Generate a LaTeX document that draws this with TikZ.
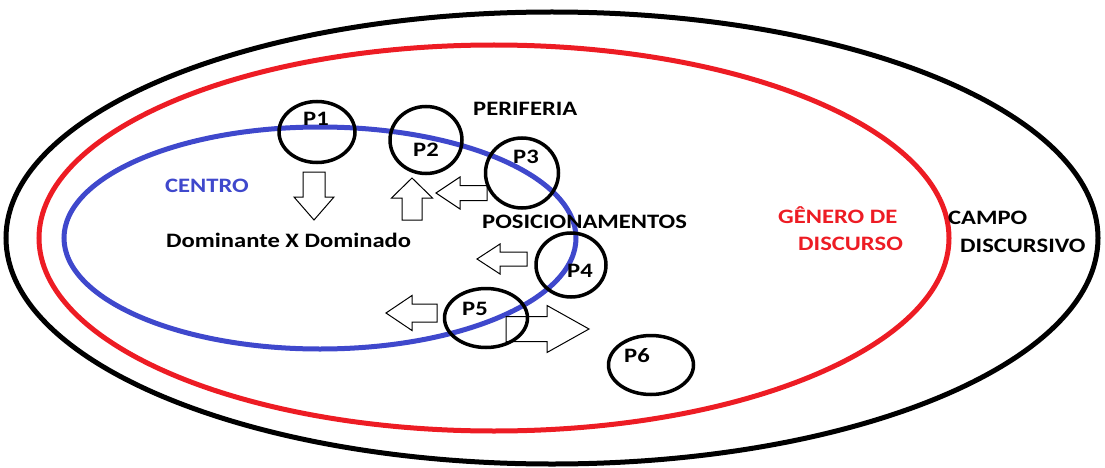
\documentclass[tikz,border=0pt]{standalone}
\usepackage{fontspec}
\setmainfont{Carlito}
\newfontfamily\widecarlito[FakeStretch=1.2]{Carlito}
\usepackage{xcolor}
\usetikzlibrary{shapes.geometric}

\definecolor{paintred}{HTML}{ED1C24}
\definecolor{paintblue}{HTML}{3F48CC}

\tikzset{
  poscircle/.style={draw=black, line width=3.5pt, ellipse, inner sep=0pt},
  plabel/.style={anchor=base west, inner sep=0pt, font=\widecarlito\fontsize{20.5}{22}\selectfont\bfseries},
  maintext/.style={anchor=base west, inner sep=0pt, font=\widecarlito\fontsize{20.5}{22}\selectfont\bfseries},
}

% hollow block arrow: x, y (tail), angle, length, shaft width, head width, head length
\newcommand{\hollowarrow}[7]{%
  \begin{scope}[shift={(#1,#2)}, rotate=#3]
    \draw[line width=1pt, fill=white]
      (0,-#5/2) -- (#4-#7,-#5/2) -- (#4-#7,-#6/2) -- (#4,0)
      -- (#4-#7,#6/2) -- (#4-#7,#5/2) -- (0,#5/2) -- cycle;
  \end{scope}}

\begin{document}
\begin{tikzpicture}[x=1pt, y=-1pt]
  \useasboundingbox (0,0) rectangle (1105,468);
  % Outer fields
  \draw[line width=5pt, black] (552,238) ellipse [x radius=546, y radius=226];
  \draw[line width=5pt, paintred] (494,238) ellipse [x radius=455, y radius=193];
  \draw[line width=5pt, paintblue] (320,238) ellipse [x radius=256, y radius=111];

  % Field labels
  \node[maintext, text=paintblue] (centro) at (165,192) {CENTRO};
  \node[maintext] (domin) at (166,247) {Dominante X Dominado};
  \node[maintext] (periferia) at (473,116) {PERIFERIA};
  \node[maintext] (posic) at (482,228) {POSICIONAMENTOS};
  \node[maintext, text=paintred] (genero) at (778,223) {GÊNERO DE};
  \node[maintext, text=paintred] (discurso) at (798,250) {DISCURSO};
  \node[maintext] (campo) at (948,224) {CAMPO};
  \node[maintext] (discursivo) at (960,252) {DISCURSIVO};

  % Arrows
  \hollowarrow{314}{172}{-90}{48}{22}{40}{23}
  \hollowarrow{412}{220}{90}{42}{20}{41}{20}
  \hollowarrow{487}{193}{180}{51}{15}{32}{24}
  \hollowarrow{527}{259}{180}{50}{14}{30}{23}
  \hollowarrow{437}{313}{180}{51}{18}{35}{26}
  \hollowarrow{506}{329}{0}{83}{25}{47}{42}

  % Positions
  \foreach \n/\x/\y/\w/\h in {p1/317/132/76/61, p2/426/140/72/67, p3/522/173/73/70,
                              p4/571/265/70/64, p5/486/318/83/59, p6/651/365/85/59} {
    \node[poscircle, minimum width=\w pt, minimum height=\h pt] (\n) at (\x,\y) {};
  }
  \foreach \n/\t/\x/\y in {l1/P1/303/125, l2/P2/413/157, l3/P3/513/164,
                           l4/P4/567/277, l5/P5/462/315, l6/P6/624/362} {
    \node[plabel] (\n) at (\x,\y) {\t};
  }
\end{tikzpicture}
\end{document}
